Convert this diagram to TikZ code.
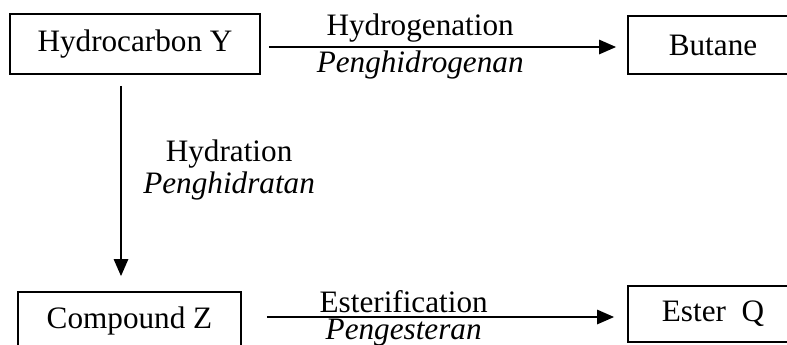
\documentclass[tikz,border=0pt]{standalone}
\usepackage{fontspec}
\setmainfont{Liberation Serif}
\usepackage{tikz}
\usetikzlibrary{arrows.meta, positioning, calc}

\begin{document}
\begin{tikzpicture}[x=0.5pt, y=-0.5pt,
	font=\fontsize{15.6}{16}\selectfont,
	box/.style={shape=rectangle, draw=black, line width=0.8pt, inner sep=0pt},
	flow/.style={-{Triangle[length=8.5pt, width=7pt]}, line width=1.3pt},
	lbl/.style={inner sep=1.5pt}]

	\useasboundingbox (0,0) rectangle (787,344);

	\node[box, minimum width=125pt, minimum height=30pt] at (135, 44) (hyc){Hydrocarbon Y};
	\node[box, minimum width=85pt, minimum height=29pt] at (713, 45) (but){Butane};
	\node[box, minimum width=111.5pt, minimum height=29pt] at (129.5, 321) (cpz){Compound Z};
	\node[box, minimum width=85pt, minimum height=28pt] at (713, 314) (esq){Ester~~Q};

	% hydrogenation
	\draw[flow, shorten <=4pt, shorten >=5.5pt] ([yshift=-1.5pt]hyc.east) -- ([yshift=-1.5pt]hyc.east -| but.west)
		node[lbl, pos=0.435, above] {Hydrogenation}
		node[lbl, pos=0.435, below] {\textit{Penghidrogenan}};
	% hydration
	\draw[flow, shorten <=5.5pt, shorten >=7.5pt] ([xshift=-7pt]hyc.south) -- ([xshift=-7pt]hyc.south |- cpz.north)
		node[lbl, pos=0.44, right=9pt, align=center] {Hydration\\\textit{Penghidratan}};
	% esterification
	\draw[flow, shorten <=12.5pt, shorten >=6.5pt] ([yshift=-1.5pt]esq.west -| cpz.east) -- ([yshift=-1.5pt]esq.west)
		node[lbl, pos=0.42, above] {Esterification}
		node[lbl, inner sep=0.3pt, pos=0.42, below] {\textit{Pengesteran}};
\end{tikzpicture}
\end{document}
